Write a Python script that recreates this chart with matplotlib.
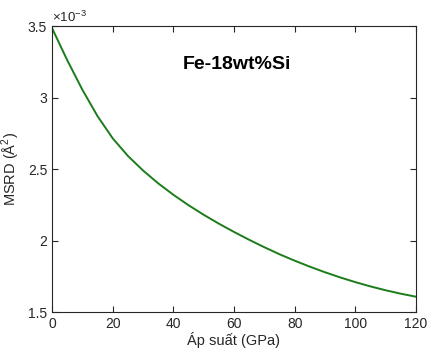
import matplotlib
matplotlib.use("Agg")
import matplotlib.pyplot as plt
from matplotlib.ticker import FuncFormatter

plt.rcParams["font.family"] = ["Liberation Sans", "DejaVu Sans"]
plt.rcParams["mathtext.fontset"] = "custom"
plt.rcParams["mathtext.rm"] = "Liberation Sans"

# Pressure (GPa) and MSRD (x1e-3 A^2)
pressure = [0, 5, 10, 15, 20, 25, 30, 35, 40, 45, 50, 55, 60,
            65, 70, 75, 80, 85, 90, 95, 100, 105, 110, 115, 120]
msrd = [3.486, 3.262, 3.055, 2.870, 2.715, 2.592, 2.490, 2.400, 2.320,
        2.247, 2.180, 2.118, 2.060, 2.005, 1.953, 1.904, 1.859, 1.817,
        1.778, 1.742, 1.709, 1.679, 1.652, 1.628, 1.607]

x_ticks = [0, 20, 40, 60, 80, 100, 120]
y_ticks = [1.5, 2, 2.5, 3, 3.5]

fig = plt.figure(figsize=(4.29, 3.52), dpi=100)
ax = fig.add_axes([0.1212, 0.1136, 0.8485, 0.8125])

ax.plot(pressure, msrd, color="#1a7d1a", linewidth=1.4)

ax.set_xlim(0, 120)
ax.set_ylim(1.5, 3.5)
ax.set_xticks(x_ticks)
ax.set_yticks(y_ticks)
ax.yaxis.set_major_formatter(FuncFormatter(lambda v, p: f"{v:g}"))

ax.tick_params(direction="in", top=True, right=True, length=4,
               labelsize=10, colors="#262626")
for s in ax.spines.values():
    s.set_color("#262626")
    s.set_linewidth(0.8)

# MATLAB-style exponent label above the y axis
ax.text(0.0, 1.005, r"$\times$10$^{-3}$", transform=ax.transAxes,
        ha="left", va="bottom", fontsize=9.5, color="#262626")

ax.set_xlabel("Áp suất (GPa)", fontsize=10.5, color="#262626", labelpad=1)
ax.set_ylabel("MSRD (Å$^2$)", fontsize=10.5, color="#262626", labelpad=4)

ax.text(0.508, 0.865, "Fe-18wt%Si", transform=ax.transAxes,
        ha="center", va="center", fontsize=14, fontweight="bold")

plt.savefig("out.png", dpi=100)
